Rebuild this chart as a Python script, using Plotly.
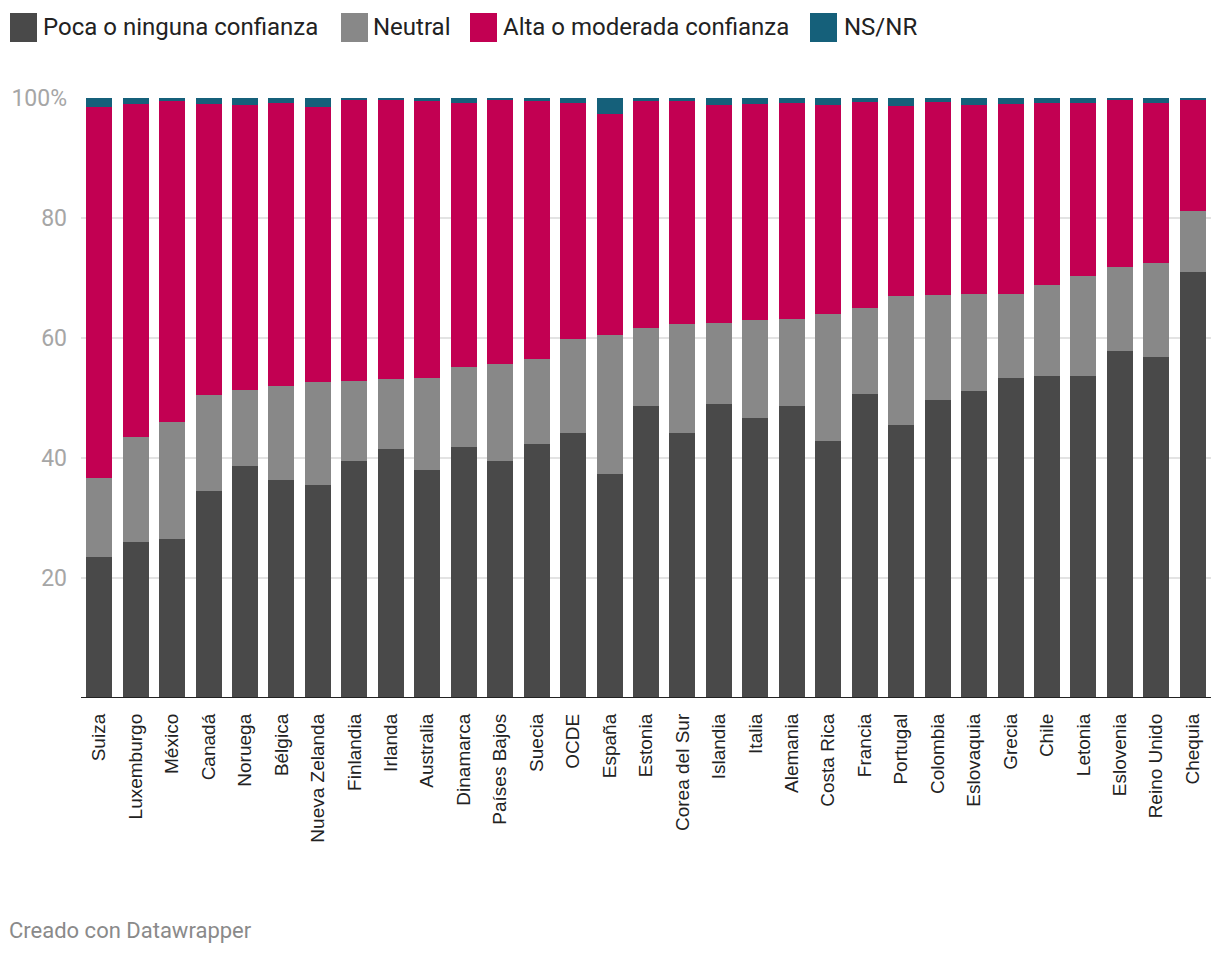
import plotly.graph_objects as go

# ---- data ----
countries = ["Suiza", "Luxemburgo", "México", "Canadá", "Noruega", "Bélgica", "Nueva Zelanda",
             "Finlandia", "Irlanda", "Australia", "Dinamarca", "Países Bajos", "Suecia", "OCDE",
             "España", "Estonia", "Corea del Sur", "Islandia", "Italia", "Alemania", "Costa Rica",
             "Francia", "Portugal", "Colombia", "Eslovaquia", "Grecia", "Chile", "Letonia",
             "Eslovenia", "Reino Unido", "Chequia"]
poca = [23.5, 26.0, 26.5, 34.5, 38.7, 36.3, 35.5, 39.5, 41.5, 38.0, 41.8, 39.5, 42.3, 44.2,
        37.3, 48.7, 44.2, 49.0, 46.7, 48.7, 42.8, 50.7, 45.5, 49.7, 51.2, 53.3, 53.7, 53.7,
        57.8, 56.8, 71.0]
neutral = [13.2, 17.5, 19.5, 16.0, 12.6, 15.7, 17.2, 13.3, 11.7, 15.3, 13.4, 16.2, 14.2, 15.6,
           23.2, 13.0, 18.1, 13.5, 16.3, 14.5, 21.2, 14.3, 21.5, 17.5, 16.1, 14.0, 15.1, 16.6,
           14.0, 15.7, 10.2]
alta = [61.8, 55.5, 53.5, 48.5, 47.5, 47.2, 45.8, 47.0, 46.6, 46.2, 44.0, 44.0, 43.0, 39.4,
        36.9, 37.8, 37.2, 36.3, 36.0, 36.0, 34.8, 34.4, 31.7, 32.2, 31.5, 31.7, 30.4, 28.9,
        27.9, 26.7, 18.5]
nsnr = [1.5, 1.0, 0.5, 1.0, 1.2, 0.8, 1.5, 0.2, 0.2, 0.5, 0.8, 0.3, 0.5, 0.8,
        2.6, 0.5, 0.5, 1.2, 1.0, 0.8, 1.2, 0.6, 1.3, 0.6, 1.2, 1.0, 0.8, 0.8,
        0.3, 0.8, 0.3]
series_names = ["Poca o ninguna confianza", "Neutral", "Alta o moderada confianza", "NS/NR"]
series_colors = ["#494949", "#888888", "#c20052", "#15607a"]
y_ticks = [20, 40, 60, 80, 100]
y_tick_labels = ["20", "40", "60", "80", "100%"]

# ---- figure (page has an 8px body margin, so the figure is 8px smaller) ----
OFF = 8
W, H = 1212, 946
L, R, T, B = 73, 9, 90, 256
fig = go.Figure()
for name, vals, col in zip(series_names, [poca, neutral, alta, nsnr], series_colors):
    fig.add_trace(go.Bar(x=countries, y=vals, name=name, marker=dict(color=col, line=dict(width=0)),
                         showlegend=False, hoverinfo="x+y+name"))

fig.update_layout(
    width=W, height=H, autosize=False,
    margin=dict(l=L, r=R, t=T, b=B, pad=0),
    barmode="stack", bargap=0.287,
    plot_bgcolor="white", paper_bgcolor="white",
    font=dict(family="Roboto", color="#222222"),
    xaxis=dict(type="category", tickangle=-90, showgrid=False, showline=False, ticks="",
               automargin=False,
               tickfont=dict(family="Liberation Sans", size=19, color="#222222"),
               ticklabelstandoff=11, range=[-0.5, len(countries) - 0.5]),
    yaxis=dict(range=[0, 100], tickvals=y_ticks, ticktext=y_tick_labels, showgrid=True,
               automargin=False,
               gridcolor="#e3e3e3", gridwidth=1.5, zeroline=False, showline=False, ticks="",
               tickfont=dict(family="Roboto", size=23, color="#a6a6a6"), ticklabelstandoff=13),
)

def px_x(p):
    return (p - OFF - L) / (W - L - R)

def px_y(p):
    return (H - B - (p - OFF)) / (H - T - B)

# baseline
fig.add_shape(type="line", xref="paper", yref="y", x0=px_x(81), x1=px_x(1211), y0=0, y1=0,
              line=dict(color="#222222", width=2), layer="above")

# custom legend
legend_sq_x = [10, 341, 470, 810]
legend_txt_x = [41, 371, 501, 842]
for name, col, sx, tx in zip(series_names, series_colors, legend_sq_x, legend_txt_x):
    fig.add_shape(type="rect", xref="paper", yref="paper", x0=px_x(sx), x1=px_x(sx + 27),
                  y0=px_y(42), y1=px_y(13), fillcolor=col, line=dict(width=0))
    fig.add_annotation(xref="paper", yref="paper", x=px_x(tx), y=px_y(27), text=name,
                       showarrow=False, xanchor="left", yanchor="middle",
                       font=dict(family="Roboto", size=24, color="#222222"))

# footer
fig.add_annotation(xref="paper", yref="paper", x=px_x(7), y=px_y(931), text="Creado con Datawrapper",
                   showarrow=False, xanchor="left", yanchor="middle",
                   font=dict(family="Roboto", size=22, color="#8a8a8a"))

fig.write_html("out.html")
